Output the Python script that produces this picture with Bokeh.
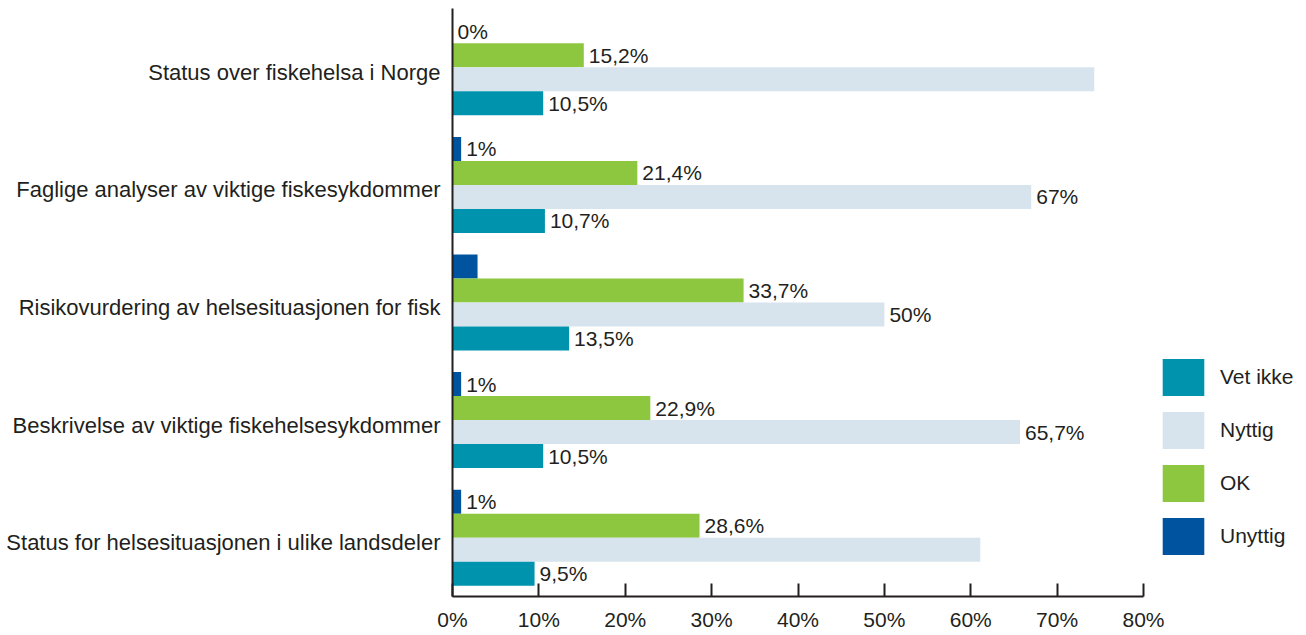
from bokeh.plotting import figure
from bokeh.models import Range1d, ColumnDataSource, Legend, LegendItem, FixedTicker, LinearAxis
from bokeh.transform import dodge
from bokeh.embed import file_html
from bokeh.resources import INLINE
from bokeh.core.properties import value

categories = [
    "Status over fiskehelsa i Norge",
    "Faglige analyser av viktige fiskesykdommer",
    "Risikovurdering av helsesituasjonen for fisk",
    "Beskrivelse av viktige fiskehelsesykdommer",
    "Status for helsesituasjonen i ulike landsdeler",
]
series = ["Unyttig", "OK", "Nyttig", "Vet ikke"]
unyttig = [0, 1, 2.9, 1, 1]
ok = [15.2, 21.4, 33.7, 22.9, 28.6]
nyttig = [74.3, 67, 50, 65.7, 61.1]
vet_ikke = [10.5, 10.7, 13.5, 10.5, 9.5]
unyttig_labels = ["0%", "1%", "", "1%", "1%"]
ok_labels = ["15,2%", "21,4%", "33,7%", "22,9%", "28,6%"]
nyttig_labels = ["", "67%", "50%", "65,7%", ""]
vet_ikke_labels = ["10,5%", "10,7%", "13,5%", "10,5%", "9,5%"]
x_ticks = [0, 10, 20, 30, 40, 50, 60, 70, 80]
x_tick_labels = ["0%", "10%", "20%", "30%", "40%", "50%", "60%", "70%", "80%"]
colors = {"Unyttig": "#00549F", "OK": "#8DC63F", "Nyttig": "#D7E4EE", "Vet ikke": "#0093AE"}

FONT = "Liberation Sans"
TXT = "#231F20"

W, H = 1306, 635
LEFT, TOP, BOTTOM = 452, 8, 39
x_end = 80 * (W - LEFT) / (1143 - 452)
n = len(categories)
ypos = [n - 1 - i + 0.5 for i in range(n)]  # first category at the top

p = figure(width=W, height=H, output_backend="svg", toolbar_location=None,
           y_range=Range1d(0, n), x_range=Range1d(0, x_end),
           min_border_left=LEFT, min_border_right=0, min_border_top=TOP, min_border_bottom=BOTTOM)
p.outline_line_color = None
p.xgrid.visible = False
p.ygrid.visible = False

values = {"Unyttig": unyttig, "OK": ok, "Nyttig": nyttig, "Vet ikke": vet_ikke}
labels = {"Unyttig": unyttig_labels, "OK": ok_labels, "Nyttig": nyttig_labels, "Vet ikke": vet_ikke_labels}
offsets = {"Unyttig": 0.306, "OK": 0.102, "Nyttig": -0.102, "Vet ikke": -0.306}
renderers = {}
for s in series:
    src = ColumnDataSource(dict(y=ypos, val=values[s], lab=labels[s]))
    r = p.hbar(y=dodge("y", offsets[s]), left=0, right="val", height=0.204,
               source=src, fill_color=colors[s], line_color=None)
    renderers[s] = r
    p.text(x="val", y=dodge("y", offsets[s]), text="lab", source=src,
           x_offset=5, text_baseline="middle", text_align="left", text_font_size="21px",
           text_font=value(FONT), text_color=TXT)

# category axis: labels sit slightly below the group centre, as in the reference
p.yaxis.visible = False
shift = 0.085  # in half-group units (about 5 px)
p.extra_y_ranges = {"lab": Range1d(shift, 2 * n + shift)}
cat_ticks = [2 * i + 1 for i in range(n)]
yax = LinearAxis(y_range_name="lab", ticker=FixedTicker(ticks=cat_ticks),
                 major_label_overrides={t: c for t, c in zip(cat_ticks, categories[::-1])})
yax.major_tick_line_color = None
yax.minor_tick_line_color = None
yax.major_tick_out = 0
yax.major_tick_in = 0
yax.axis_line_color = TXT
yax.axis_line_width = 2
yax.major_label_text_font = FONT
yax.major_label_text_font_size = "22px"
yax.major_label_text_color = TXT
yax.major_label_standoff = 12
p.add_layout(yax, "left")

p.xaxis.ticker = FixedTicker(ticks=x_ticks)
p.xaxis.bounds = (0, 80)
p.xaxis.major_label_overrides = {t: l for t, l in zip(x_ticks, x_tick_labels)}
p.xaxis.axis_line_color = TXT
p.xaxis.axis_line_width = 2
p.xaxis.major_tick_line_color = TXT
p.xaxis.major_tick_line_width = 2
p.xaxis.major_tick_in = 13
p.xaxis.major_tick_out = 0
p.xaxis.minor_tick_line_color = None
p.xaxis.major_label_text_font = FONT
p.xaxis.major_label_text_font_size = "21px"
p.xaxis.major_label_text_color = TXT
p.xaxis.major_label_standoff = 11

legend = Legend(items=[LegendItem(label=s, renderers=[renderers[s]]) for s in ["Vet ikke", "Nyttig", "OK", "Unyttig"]],
                location=(705, 37), glyph_width=52, glyph_height=46, spacing=7, padding=0, margin=0,
                label_standoff=11, label_text_font=FONT, label_text_font_size="21px", label_text_color=TXT,
                border_line_color=None, background_fill_alpha=0)
p.add_layout(legend, "center")

open("out.html", "w").write(file_html(p, INLINE))
